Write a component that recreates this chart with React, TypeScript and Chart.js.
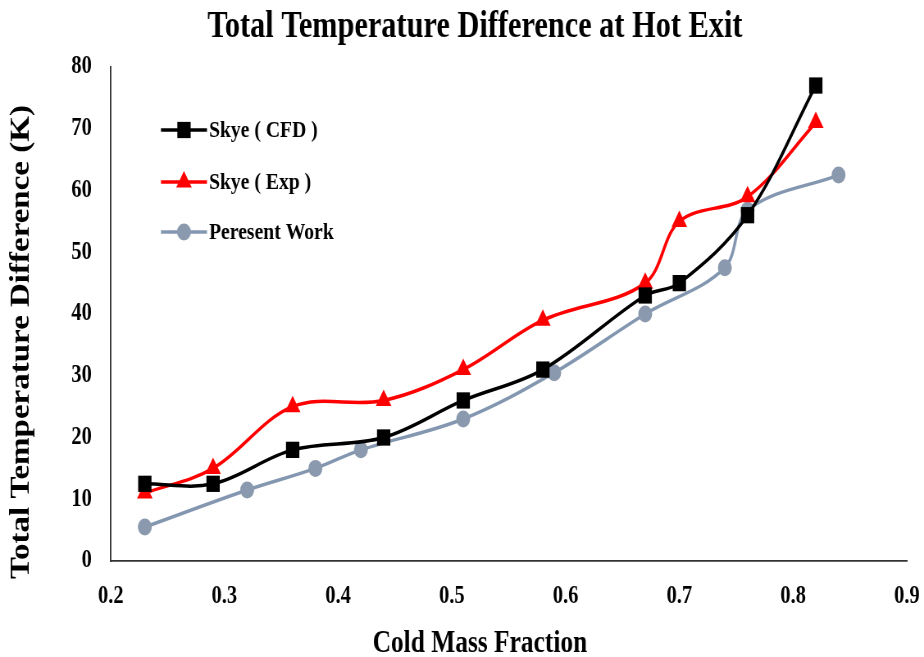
import React, { useEffect, useRef } from "react";
import { Chart, registerables } from "chart.js";

Chart.register(...registerables);

const chartTitle = "Total Temperature Difference at Hot Exit";
const xAxisTitle = "Cold Mass Fraction";
const yAxisTitle = "Total Temperature Difference (K)";
const seriesNames = ["Skye ( CFD )", "Skye ( Exp )", "Peresent Work"];

const cfdX = [0.23, 0.29, 0.36, 0.44, 0.51, 0.58, 0.67, 0.70, 0.76, 0.82];
const cfdY = [12.5, 12.5, 18, 20, 26, 31, 43, 45, 56, 77];

const expX = [0.23, 0.29, 0.36, 0.44, 0.51, 0.58, 0.67, 0.70, 0.76, 0.82];
const expY = [11, 15, 25, 26, 31, 39, 45, 55, 59, 71];

const presentX = [0.23, 0.32, 0.38, 0.42, 0.51, 0.59, 0.67, 0.74, 0.76, 0.84];
const presentY = [5.5, 11.5, 15, 18, 23, 30.5, 40, 47.5, 56.8, 62.5];

const xMin = 0.2;
const xMax = 0.9;
const yMin = 0;
const yMax = 80;

const FONT = "'Liberation Serif', 'Times New Roman', serif";

// the reference is horizontally condensed; draw wide and squeeze with CSS
const VIEW_W = 924;
const VIEW_H = 657;
const SQUEEZE = 0.82;
const CANVAS_W = Math.round(VIEW_W / SQUEEZE);

const toPoints = (xs: number[], ys: number[]) => xs.map((x, i) => ({ x, y: ys[i] }));

function drawMarker(ctx: CanvasRenderingContext2D, style: string, r: number, x: number, y: number, fill: string) {
  ctx.fillStyle = fill;
  ctx.beginPath();
  if (style === "rect") {
    const s = Math.SQRT1_2 * r;
    ctx.rect(x - s, y - s, 2 * s, 2 * s);
  } else if (style === "triangle") {
    ctx.moveTo(x, y - r);
    ctx.lineTo(x + r * Math.sin(Math.PI / 3), y + r * 0.5);
    ctx.lineTo(x - r * Math.sin(Math.PI / 3), y + r * 0.5);
    ctx.closePath();
  } else {
    ctx.arc(x, y, r, 0, Math.PI * 2);
  }
  ctx.fill();
}

const overlayPlugin = {
  id: "overlay",
  afterDraw(chart: any) {
    const ctx: CanvasRenderingContext2D = chart.ctx;
    const sx = (v: number) => v / SQUEEZE;
    ctx.save();
    ctx.fillStyle = "#000";

    // chart title
    ctx.font = `bold 37px ${FONT}`;
    ctx.textAlign = "center";
    ctx.textBaseline = "alphabetic";
    ctx.fillText(chartTitle, sx(475), 37);

    // x axis title
    ctx.font = `bold 31px ${FONT}`;
    ctx.fillText(xAxisTitle, sx(480), 652);

    // y axis title
    ctx.save();
    ctx.translate(sx(22), 342);
    ctx.rotate(-Math.PI / 2);
    ctx.font = `bold 33px ${FONT}`;
    ctx.textBaseline = "middle";
    ctx.fillText(yAxisTitle, 0, 0);
    ctx.restore();

    // legend inside plot
    const rows = [130, 182, 232];
    chart.data.datasets.forEach((ds: any, i: number) => {
      const y = rows[i];
      const x0 = sx(161);
      const x1 = sx(207);
      ctx.strokeStyle = ds.borderColor;
      ctx.lineWidth = 3.5;
      ctx.beginPath();
      ctx.moveTo(x0, y);
      ctx.lineTo(x1, y);
      ctx.stroke();
      drawMarker(ctx, ds.pointStyle, ds.pointRadius, sx(184), y, ds.pointBackgroundColor);
      ctx.fillStyle = "#000";
      ctx.font = `bold 24px ${FONT}`;
      ctx.textAlign = "left";
      ctx.textBaseline = "middle";
      ctx.fillText(ds.label, sx(209), y + 1);
    });
    ctx.restore();
  },
};

export default function App() {
  const canvasRef = useRef<HTMLCanvasElement | null>(null);

  useEffect(() => {
    if (!canvasRef.current) return;
    const chart = new Chart(canvasRef.current, {
      type: "line",
      data: {
        datasets: [
          {
            label: seriesNames[0],
            data: toPoints(cfdX, cfdY),
            borderColor: "#000000",
            backgroundColor: "#000000",
            pointBackgroundColor: "#000000",
            pointBorderColor: "#000000",
            pointStyle: "rect",
            pointRadius: 11.5,
            pointBorderWidth: 0,
            borderWidth: 3.5,
            tension: 0.35,
          },
          {
            label: seriesNames[1],
            data: toPoints(expX, expY),
            borderColor: "#ff0000",
            backgroundColor: "#ff0000",
            pointBackgroundColor: "#ff0000",
            pointBorderColor: "#ff0000",
            pointStyle: "triangle",
            pointRadius: 11,
            pointBorderWidth: 0,
            borderWidth: 3.5,
            tension: 0.35,
          },
          {
            label: seriesNames[2],
            data: toPoints(presentX, presentY),
            borderColor: "#8497b0",
            backgroundColor: "#8a99ad",
            pointBackgroundColor: "#8a99ad",
            pointBorderColor: "#8a99ad",
            pointStyle: "circle",
            pointRadius: 8.5,
            pointBorderWidth: 0,
            borderWidth: 3.5,
            tension: 0.35,
          },
        ],
      },
      options: {
        animation: false,
        responsive: false,
        maintainAspectRatio: false,
        layout: { padding: { top: 67, right: Math.round(CANVAS_W - 907 / SQUEEZE), bottom: 0, left: 0 } },
        plugins: {
          legend: { display: false },
          title: { display: false },
          tooltip: { enabled: false },
        },
        scales: {
          x: {
            type: "linear",
            min: xMin,
            max: xMax,
            afterFit: (scale: any) => {
              scale.height = 96;
              scale.paddingLeft = 0;
              scale.paddingRight = 0;
            },
            ticks: {
              stepSize: 0.1,
              padding: 21,
              color: "#000",
              font: { family: FONT, size: 25, weight: "bold" },
              callback: (v: any) => Number(v).toFixed(1),
            },
            grid: { display: false, drawTicks: false },
            border: { display: true, color: "#333", width: 1.8 },
            title: { display: false },
          },
          y: {
            type: "linear",
            min: yMin,
            max: yMax,
            afterFit: (scale: any) => {
              scale.width = Math.round(111 / SQUEEZE);
            },
            ticks: {
              stepSize: 10,
              padding: 23,
              color: "#000",
              font: { family: FONT, size: 25, weight: "bold" },
            },
            grid: { display: false, drawTicks: false },
            border: { display: true, color: "#333", width: 1.8 },
            title: { display: false },
          },
        },
      },
      plugins: [overlayPlugin],
    });
    return () => chart.destroy();
  }, []);

  return (
    <div style={{ position: "absolute", left: 0, top: 0, width: VIEW_W, height: VIEW_H, background: "#fff" }}>
      <canvas
        ref={canvasRef}
        width={CANVAS_W}
        height={VIEW_H}
        style={{ width: VIEW_W, height: VIEW_H, display: "block" }}
      />
    </div>
  );
}
